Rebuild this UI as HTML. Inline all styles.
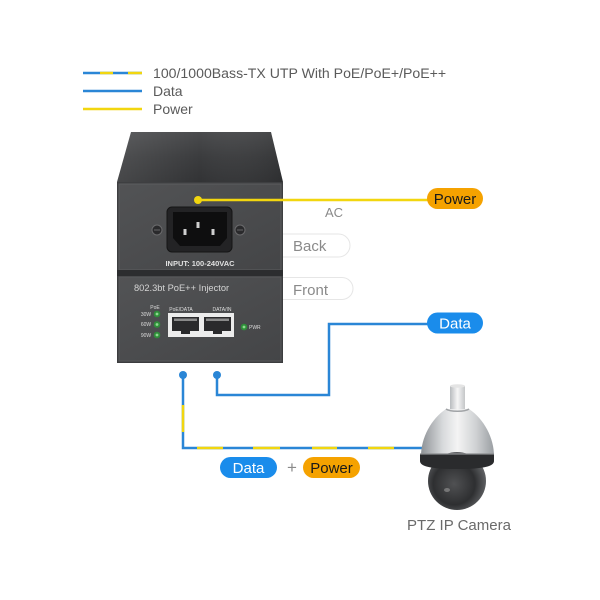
<!DOCTYPE html>
<html><head><meta charset="utf-8"><style>
html,body{margin:0;padding:0;background:#fff;}
body{width:600px;height:600px;overflow:hidden;}
svg{display:block;}
text{font-family:"Liberation Sans",sans-serif;}
</style></head><body>
<svg width="600" height="600" viewBox="0 0 600 600" xmlns="http://www.w3.org/2000/svg">
<defs>
<linearGradient id="topface" x1="0" y1="0" x2="0" y2="1">
<stop offset="0" stop-color="#4a4b4d"/><stop offset="0.5" stop-color="#3b3c3e"/><stop offset="1" stop-color="#323335"/>
</linearGradient>
<linearGradient id="topsheen" x1="0" y1="0" x2="1" y2="0">
<stop offset="0" stop-color="#fff" stop-opacity="0.10"/><stop offset="0.5" stop-color="#fff" stop-opacity="0"/><stop offset="1" stop-color="#000" stop-opacity="0.1"/>
</linearGradient>
<linearGradient id="panel" x1="0" y1="0" x2="1" y2="1">
<stop offset="0" stop-color="#525355"/><stop offset="1" stop-color="#444547"/>
</linearGradient>
<linearGradient id="shell" x1="0" y1="0" x2="1" y2="0">
<stop offset="0" stop-color="#8e9296"/><stop offset="0.3" stop-color="#d8dadc"/><stop offset="0.5" stop-color="#f4f4f4"/><stop offset="0.75" stop-color="#d0d2d4"/><stop offset="1" stop-color="#9a9ea2"/>
</linearGradient>
<linearGradient id="pole" x1="0" y1="0" x2="1" y2="0">
<stop offset="0" stop-color="#b8bbbe"/><stop offset="0.5" stop-color="#f6f6f6"/><stop offset="1" stop-color="#c4c6c8"/>
</linearGradient>
<radialGradient id="glass" cx="0.45" cy="0.55" r="0.6">
<stop offset="0" stop-color="#505153"/><stop offset="0.6" stop-color="#2e2f31"/><stop offset="1" stop-color="#6a6c6f"/>
</radialGradient>
</defs>

<!-- Legend -->
<line x1="83" y1="73" x2="142" y2="73" stroke="#2a86d6" stroke-width="2.5"/>
<line x1="100" y1="73" x2="113" y2="73" stroke="#f2d60f" stroke-width="2.5"/>
<line x1="128" y1="73" x2="142" y2="73" stroke="#f2d60f" stroke-width="2.5"/>
<line x1="83" y1="91" x2="142" y2="91" stroke="#2a86d6" stroke-width="2.5"/>
<line x1="83" y1="109" x2="142" y2="109" stroke="#f2d60f" stroke-width="2.5"/>
<text x="153" y="78" font-size="14.1" fill="#5a5a5a">100/1000Bass-TX UTP With PoE/PoE+/PoE++</text>
<text x="153" y="96" font-size="14" fill="#5a5a5a">Data</text>
<text x="153" y="114" font-size="14" fill="#5a5a5a">Power</text>

<!-- Back / Front pills (behind device) -->
<rect x="250" y="234" width="100" height="23" rx="11.5" fill="#fff" stroke="#e6e6e6" stroke-width="1"/>
<rect x="250" y="277.5" width="103" height="22" rx="11" fill="#fff" stroke="#e6e6e6" stroke-width="1"/>
<text x="293" y="251" font-size="15" fill="#8a8a8a">Back</text>
<text x="293" y="295" font-size="15" fill="#8a8a8a">Front</text>

<!-- Device -->
<polygon points="131,132 271,132 283,182 117,182" fill="url(#topface)"/>
<polygon points="131,132 271,132 283,182 117,182" fill="url(#topsheen)"/>
<rect x="117" y="182" width="166" height="90" fill="#3e3f41"/>
<rect x="119" y="184" width="162" height="86" fill="url(#panel)" stroke="#5c5d5f" stroke-width="1"/>
<rect x="117" y="270" width="166" height="6" fill="#2c2d2f"/>
<rect x="117" y="276" width="166" height="87" fill="#3c3d3f"/>
<rect x="119" y="277" width="162" height="84" fill="url(#panel)" stroke="#58595b" stroke-width="1"/>

<!-- AC socket -->
<rect x="167" y="207" width="65" height="45" rx="5" fill="#232325" stroke="#151515" stroke-width="1"/>
<path d="M173,212 L227,212 L227,238 L220,246 L180,246 L173,238 Z" fill="#0e0e0f"/>
<rect x="183.5" y="229" width="3" height="6" fill="#cfcfcf"/>
<rect x="196.5" y="222" width="3" height="6" fill="#cfcfcf"/>
<rect x="211.5" y="229" width="3" height="6" fill="#cfcfcf"/>
<circle cx="157" cy="230" r="5" fill="#2a2a2c" stroke="#6a6a6c" stroke-width="1"/>
<line x1="154" y1="230" x2="160" y2="230" stroke="#777" stroke-width="0.8"/>
<circle cx="240" cy="230" r="5" fill="#2a2a2c" stroke="#6a6a6c" stroke-width="1"/>
<line x1="237" y1="230" x2="243" y2="230" stroke="#777" stroke-width="0.8"/>
<text x="200" y="266" font-size="7.5" font-weight="bold" fill="#e0e0e0" text-anchor="middle">INPUT: 100-240VAC</text>

<!-- Front panel details -->
<text x="134" y="291" font-size="9.3" fill="#d4d4d4">802.3bt PoE++ Injector</text>
<text x="155" y="309" font-size="5" fill="#ddd" text-anchor="middle">PoE</text>
<text x="146" y="316" font-size="5" fill="#ddd" text-anchor="middle">30W</text>
<text x="146" y="326" font-size="5" fill="#ddd" text-anchor="middle">60W</text>
<text x="146" y="337" font-size="5" fill="#ddd" text-anchor="middle">90W</text>
<circle cx="157" cy="314" r="3.3" fill="#2f8f3a"/><circle cx="157" cy="314" r="1.4" fill="#8fd890"/>
<circle cx="157" cy="324.5" r="3.3" fill="#2f8f3a"/><circle cx="157" cy="324.5" r="1.4" fill="#8fd890"/>
<circle cx="157" cy="335" r="3.3" fill="#2f8f3a"/><circle cx="157" cy="335" r="1.4" fill="#8fd890"/>
<text x="181" y="311" font-size="5" fill="#ddd" text-anchor="middle">PoE/DATA</text>
<text x="222" y="311" font-size="5" fill="#ddd" text-anchor="middle">DATA/IN</text>
<rect x="168" y="313" width="66" height="24" fill="#ececec"/>
<rect x="172" y="317" width="27" height="14" fill="#2a2a2c"/>
<rect x="181" y="331" width="9" height="3" fill="#2a2a2c"/>
<rect x="174" y="318.5" width="23" height="2.5" fill="#8a8a8a"/>
<rect x="204" y="317" width="27" height="14" fill="#2a2a2c"/>
<rect x="213" y="331" width="9" height="3" fill="#2a2a2c"/>
<rect x="206" y="318.5" width="23" height="2.5" fill="#8a8a8a"/>
<circle cx="244" cy="327" r="3.3" fill="#2f8f3a"/><circle cx="244" cy="327" r="1.4" fill="#8fd890"/>
<text x="249" y="329" font-size="5" fill="#ddd">PWR</text>

<!-- Power line -->
<line x1="198" y1="200" x2="432" y2="200" stroke="#f2d60f" stroke-width="2.5"/>
<circle cx="198" cy="200" r="4" fill="#f2d60f"/>
<text x="343" y="217" font-size="13" fill="#8a8a8a" text-anchor="end">AC</text>
<rect x="427" y="188" width="56" height="21" rx="10.5" fill="#f5a200"/>
<text x="455" y="204" font-size="15" fill="#1a1a1a" text-anchor="middle">Power</text>

<!-- Data line -->
<polyline points="217,375 217,395 329,395 329,324 432,324" fill="none" stroke="#2a86d6" stroke-width="2.5"/>
<circle cx="217" cy="375" r="4" fill="#2a86d6"/>
<rect x="427" y="312.5" width="56" height="21" rx="10.5" fill="#1a8ceb"/>
<text x="455" y="328.5" font-size="15" fill="#fff" text-anchor="middle">Data</text>

<!-- PoE combined line -->
<polyline points="183,375 183,448 423,448" fill="none" stroke="#2a86d6" stroke-width="2.5"/>
<line x1="183" y1="405" x2="183" y2="432" stroke="#f2d60f" stroke-width="2.5"/>
<line x1="197" y1="448" x2="223" y2="448" stroke="#f2d60f" stroke-width="2.5"/>
<line x1="253" y1="448" x2="280" y2="448" stroke="#f2d60f" stroke-width="2.5"/>
<line x1="312" y1="448" x2="337" y2="448" stroke="#f2d60f" stroke-width="2.5"/>
<line x1="368" y1="448" x2="394" y2="448" stroke="#f2d60f" stroke-width="2.5"/>
<circle cx="183" cy="375" r="4" fill="#2a86d6"/>

<rect x="220" y="457" width="57" height="21" rx="10.5" fill="#1a8ceb"/>
<text x="248.5" y="473" font-size="15" fill="#fff" text-anchor="middle">Data</text>
<text x="292" y="473" font-size="17" fill="#8a8a8a" text-anchor="middle">+</text>
<rect x="303" y="457" width="57" height="21" rx="10.5" fill="#f5a200"/>
<text x="331.5" y="473" font-size="15" fill="#1a1a1a" text-anchor="middle">Power</text>

<!-- Camera -->
<rect x="450" y="386" width="15" height="24" fill="url(#pole)"/>
<ellipse cx="457.5" cy="386" rx="7.5" ry="1.8" fill="#e4e4e4"/>
<path d="M446,409 C431,419 421,438 421,456 L494,456 C494,438 484,419 469,409 Z" fill="url(#shell)"/>
<path d="M446,409 C450,412 465,412 469,409" fill="none" stroke="#a0a3a6" stroke-width="1.5"/>
<circle cx="457" cy="481" r="29" fill="url(#glass)"/>
<path d="M420,454 L494,454 L494,461 C494,466 485,469 457,469 C429,469 420,466 420,461 Z" fill="#2a2b2d"/>
<path d="M420,454 L494,454" stroke="#8a8c8e" stroke-width="1.2"/>
<ellipse cx="447" cy="490" rx="3" ry="2" fill="#9a9a9a" opacity="0.6"/>
<text x="459" y="530" font-size="15" fill="#6a6a6a" text-anchor="middle">PTZ IP Camera</text>
</svg>
</body></html>
